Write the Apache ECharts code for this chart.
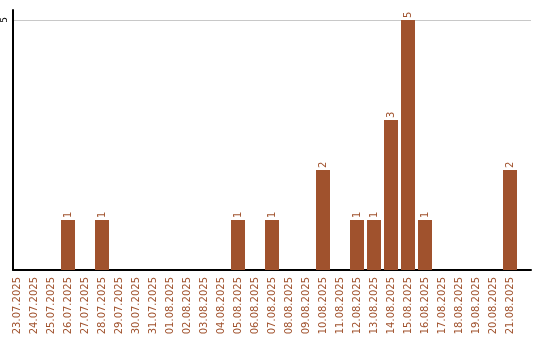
<!DOCTYPE html>
<html><head><meta charset="utf-8">
<script src="https://cdn.jsdelivr.net/npm/echarts@6/dist/echarts.min.js"></script>
<style>html,body{margin:0;padding:0;background:#fff}#c{width:540px;height:340px}</style>
</head><body><div id="c"></div>
<script>
const categories = ["23.07.2025","24.07.2025","25.07.2025","26.07.2025","27.07.2025","28.07.2025","29.07.2025","30.07.2025","31.07.2025","01.08.2025","02.08.2025","03.08.2025","04.08.2025","05.08.2025","06.08.2025","07.08.2025","08.08.2025","09.08.2025","10.08.2025","11.08.2025","12.08.2025","13.08.2025","14.08.2025","15.08.2025","16.08.2025","17.08.2025","18.08.2025","19.08.2025","20.08.2025","21.08.2025"];
const counts = [0,0,0,1,0,1,0,0,0,0,0,0,0,1,0,1,0,0,2,0,1,1,3,5,1,0,0,0,0,2];
const yMax = 5.2;
const yInterval = 5;

const color = '#A0522D';
const font = 'DejaVu Sans';
const chart = echarts.init(document.getElementById('c'), null, {renderer:'canvas'});
chart.setOption({
  animation:false,
  backgroundColor:'#fff',
  grid:[
    {left:11, right:9, top:10, bottom:70},
    {left:8.5, right:21.5, top:10, bottom:70}
  ],
  xAxis:[
    {gridIndex:0, type:'category', data:categories, boundaryGap:true,
     axisLine:{lineStyle:{color:'#000', width:2}}, axisTick:{show:false}, axisLabel:{show:false}, splitLine:{show:false}},
    {gridIndex:1, type:'category', data:categories, boundaryGap:true,
     axisLine:{show:false}, axisTick:{show:false},
     axisLabel:{rotate:90, interval:0, margin:7, color:color, fontFamily:font, fontSize:10}}
  ],
  yAxis:[
    {gridIndex:0, type:'value', min:0, max:yMax, interval:yInterval,
     axisLine:{show:true, lineStyle:{color:'#000', width:2}}, axisTick:{show:false},
     axisLabel:{rotate:90, margin:4, color:'#000', fontFamily:font, fontSize:9, showMinLabel:false,
       formatter:function(v){return v===5?'5':'';}},
     splitLine:{show:true, showMinLine:false, showMaxLine:false, lineStyle:{color:'#c8c8c8', width:1}}},
    {gridIndex:1, type:'value', min:0, max:yMax, interval:yInterval, show:false}
  ],
  series:[{
    type:'bar', xAxisIndex:1, yAxisIndex:1, data:counts, barWidth:14,
    itemStyle:{color:color},
    label:{show:true, position:'top', rotate:90, align:'left', verticalAlign:'middle', distance:2,
      color:color, fontFamily:font, fontSize:10,
      formatter:function(p){return p.value>0?String(p.value):'';}}
  }]
});
</script></body></html>
